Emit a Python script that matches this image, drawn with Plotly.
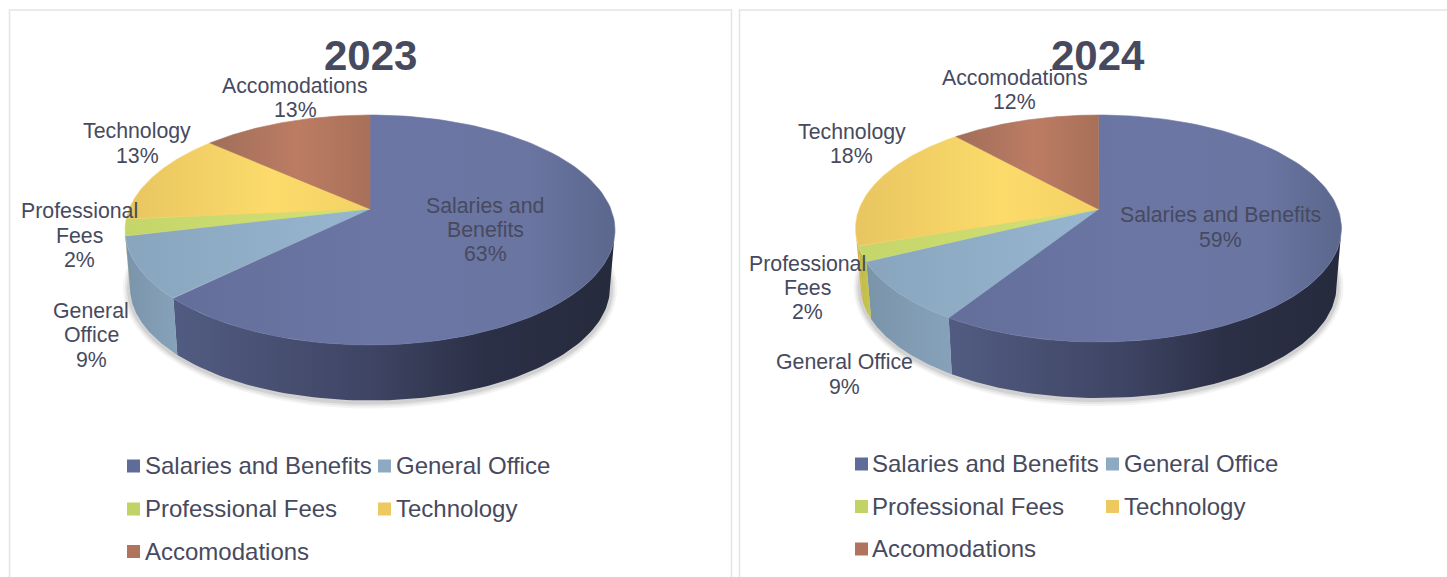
import numpy as np
import plotly.graph_objects as go

# ---------- data ----------
categories = ["Salaries and Benefits", "General Office", "Professional Fees", "Technology", "Accomodations"]
values_2023 = [62.6, 8.65, 2.35, 13.0, 13.4]
values_2024 = [59, 8.7, 2.2, 18.4, 11.7]
years = ["2023", "2024"]
label_lines_2023 = [["Salaries and", "Benefits"], ["General", "Office"], ["Professional", "Fees"], ["Technology"], ["Accomodations"]]
label_lines_2024 = [["Salaries and Benefits"], ["General Office"], ["Professional", "Fees"], ["Technology"], ["Accomodations"]]

# ---------- style / layout ----------
TEXT = "#474a5e"
FONT = "Liberation Sans"
top_scales = [
    [[0, "#636e9a"], [0.45, "#6b76a4"], [0.8, "#6a75a2"], [1, "#5c678d"]],
    [[0, "#89a5be"], [1, "#98b6d0"]],
    [[0, "#c4d56a"], [1, "#d3e274"]],
    [[0, "#e8c560"], [0.6, "#fcdb6b"], [1, "#f3d165"]],
    [[0, "#a06e5a"], [0.55, "#bc7c63"], [1, "#a87059"]],
]
wall_scales = [
    [[0, "#525c82"], [0.45, "#3e4463"], [0.7, "#2c3047"], [1, "#252a3c"]],
    [[0, "#7a94aa"], [1, "#86a2ba"]],
    [[0, "#bcba48"], [1, "#c9c64e"]],
    [[0, "#d0ae50"], [1, "#d8b655"]],
    [[0, "#8e5f4e"], [1, "#9a6653"]],
]
seam_colors = ["#6b76a4", "#91afc9", "#cbdc6f", "#f6d468", "#b27560"]
swatch_colors = ["#5f6b98", "#8ea9c2", "#c3d264", "#edc95f", "#b0745e"]

panels = [
    dict(values=values_2023, lines=label_lines_2023, cx=370, cy=230, rx=245, ry=115, c=0.183, bcy=287.5, brx=240, bry=113,
         title_x=370, title_y=55.5,
         label_pos=[[(485, 205.5), (485, 229.5), (485, 254)], [(91, 311), (91, 335), (91, 360)],
                    [(79, 211), (79, 236), (79, 260)], [(137, 131), (137, 156)], [(295, 86), (295, 110)]],
         legend_x=[134, 385], legend_y=[466, 509, 551.5], legend_grid=[(0, 0), (1, 0), (0, 1), (1, 1), (0, 2)]),
    dict(values=values_2024, lines=label_lines_2024, cx=1098.5, cy=228.5, rx=243, ry=113.5, c=0.17, bcy=286, brx=238, bry=112,
         title_x=1098, title_y=55.5,
         label_pos=[[(1220, 215), (1220, 240)], [(845, 362), (845, 387)],
                    [(808, 264), (808, 288), (808, 312)], [(852, 132), (852, 156)], [(1015, 78), (1015, 102)]],
         legend_x=[862, 1113], legend_y=[464, 506.5, 549], legend_grid=[(0, 0), (1, 0), (0, 1), (1, 1), (0, 2)]),
]


def rim(theta, cx, cy, rx, ry, c):
    """Perspective-projected circle: theta clockwise from the top."""
    X, Y = np.sin(theta), np.cos(theta)
    w = 1 + c * Y
    return cx + rx * X * np.sqrt(1 - c * c) / w, cy - ry * (Y + c) / w


fig = go.Figure()
annotations = []


def add_text(txt, x, y, size, axis, bold=False, anchor="center"):
    annotations.append(dict(text=f"<b>{txt}</b>" if bold else txt, x=x, y=y, xref=f"x{axis}", yref=f"y{axis}",
                            showarrow=False, xanchor=anchor, yanchor="middle",
                            font=dict(family=FONT, size=size, color=TEXT)))


for i, p in enumerate(panels):
    ax = "" if i == 0 else "2"
    xa, ya = f"x{ax}", f"y{ax}"
    kw = dict(xaxis=xa, yaxis=ya, hoverinfo="skip", showlegend=False)

    # soft shadow below the pie
    for grow, alpha in [(7, 0.05), (5, 0.07), (3, 0.10)]:
        t = np.linspace(0, 2 * np.pi, 160)
        fig.add_trace(go.Scatter(x=p["cx"] + (p["brx"] + grow) * np.sin(t), y=p["bcy"] + 1 + (p["bry"] + grow) * np.cos(t),
                                 mode="lines", line=dict(width=0), fill="toself",
                                 fillcolor=f"rgba(40,40,40,{alpha})", **kw))

    edges = np.concatenate([[0], np.cumsum(p["values"])]) / sum(p["values"]) * 2 * np.pi
    th_r = np.arccos(-p["c"])
    th_l = 2 * np.pi - th_r

    # side walls
    for k in range(5):
        a, b = max(edges[k], th_r), min(edges[k + 1], th_l)
        if b <= a:
            continue
        t = np.linspace(a, b, 90)
        xt, yt = rim(t, p["cx"], p["cy"], p["rx"], p["ry"], p["c"])
        xb, yb = rim(t, p["cx"], p["bcy"], p["brx"], p["bry"], p["c"])
        fig.add_trace(go.Scatter(x=np.r_[xt, xb[::-1]], y=np.r_[yt, yb[::-1]], mode="lines", line=dict(width=0),
                                 fill="toself", fillgradient=dict(type="horizontal", colorscale=wall_scales[k]),
                                 name=categories[k], **kw))

    # top faces
    for k in range(5):
        t = np.linspace(edges[k], edges[k + 1], 120)
        xt, yt = rim(t, p["cx"], p["cy"], p["rx"], p["ry"], p["c"])
        apex_y = p["cy"] - p["ry"] * p["c"]
        fig.add_trace(go.Scatter(x=np.r_[p["cx"], xt, p["cx"]], y=np.r_[apex_y, yt, apex_y],
                                 mode="lines", line=dict(width=0.6, color=seam_colors[k]), fill="toself",
                                 fillgradient=dict(type="horizontal", colorscale=top_scales[k]),
                                 name=categories[k], **kw))

    # title
    add_text(years[i], p["title_x"], p["title_y"], 42, ax, bold=True)

    # data labels
    for k in range(5):
        lines = p["lines"][k] + [f"{round(p['values'][k])}%"]
        for line, (lx, ly) in zip(lines, p["label_pos"][k]):
            add_text(line, lx, ly, 21.3, ax)

    # legend: swatches + labels
    for k in range(5):
        col, row = p["legend_grid"][k]
        sx, sy = p["legend_x"][col] - 0.5, p["legend_y"][row]
        fig.add_trace(go.Scatter(x=[sx], y=[sy], mode="markers",
                                 marker=dict(symbol="square", size=13, color=swatch_colors[k], line=dict(width=0)), **kw))
        add_text(categories[k], p["legend_x"][col] + 8.5, sy - 0.5, 24, ax, anchor="left")

W, H, SPLIT = 1447, 577, 735
axis = dict(visible=False, fixedrange=True)
fig.update_layout(
    width=W, height=H, margin=dict(l=0, r=0, t=0, b=0), paper_bgcolor="white", plot_bgcolor="white",
    xaxis=dict(domain=[0, SPLIT / W], range=[0, SPLIT], **axis),
    yaxis=dict(domain=[0, 1], range=[H, 0], **axis),
    xaxis2=dict(domain=[SPLIT / W, 1], range=[SPLIT, W], **axis),
    yaxis2=dict(domain=[0, 1], range=[H, 0], anchor="x2", **axis),
    annotations=annotations,
    shapes=[
        dict(type="rect", xref="x", yref="y", x0=9.5, x1=731.5, y0=10, y1=600, line=dict(color="#e4e4e4", width=1.5), layer="below"),
        dict(type="rect", xref="x2", yref="y2", x0=739.5, x1=1500, y0=10, y1=600, line=dict(color="#e4e4e4", width=1.5), layer="below"),
    ],
)
fig.write_html("out.html", config=dict(displayModeBar=False),
               post_script="document.body.style.margin='0';document.body.style.overflow='hidden';")
